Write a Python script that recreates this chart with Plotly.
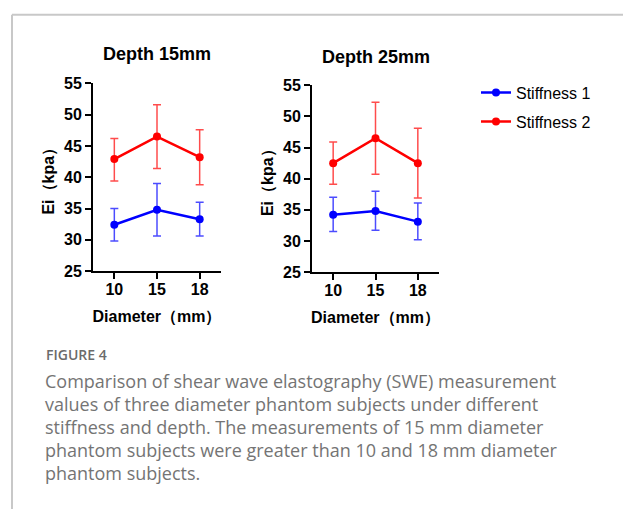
import plotly.graph_objects as go

W, H = 623, 518

diameters = ["10", "15", "18"]

# Depth 15mm
d15_s1 = [32.4, 34.8, 33.3]
d15_s1_hi = [35.0, 39.0, 36.0]
d15_s1_lo = [29.8, 30.6, 30.6]
d15_s2 = [42.9, 46.5, 43.2]
d15_s2_hi = [46.2, 51.6, 47.6]
d15_s2_lo = [39.4, 41.4, 38.8]

# Depth 25mm
d25_s1 = [34.2, 34.8, 33.1]
d25_s1_hi = [37.0, 38.0, 36.1]
d25_s1_lo = [31.5, 31.7, 30.2]
d25_s2 = [42.5, 46.5, 42.5]
d25_s2_hi = [45.9, 52.3, 48.1]
d25_s2_lo = [39.1, 40.7, 36.9]

series_names = ["Stiffness 1", "Stiffness 2"]
line_colors = ["#0000ff", "#ff0000"]
err_colors = ["rgba(0,0,255,0.7)", "rgba(255,0,0,0.7)"]

panel_titles = ["Depth 15mm", "Depth 25mm"]
y_title = "Ei（kpa）"
x_title = "Diameter（mm）"
y_ticks = [25, 30, 35, 40, 45, 50, 55]

caption_head = "FIGURE 4"
caption_lines = [
    "Comparison of shear wave elastography (SWE) measurement",
    "values of three diameter phantom subjects under different",
    "stiffness and depth. The measurements of 15 mm diameter",
    "phantom subjects were greater than 10 and 18 mm diameter",
    "phantom subjects.",
]


def px(x):
    return x / W


def py(y):
    return 1 - y / H


fig = go.Figure()

panels = [
    [(d15_s1, d15_s1_hi, d15_s1_lo), (d15_s2, d15_s2_hi, d15_s2_lo)],
    [(d25_s1, d25_s1_hi, d25_s1_lo), (d25_s2, d25_s2_hi, d25_s2_lo)],
]

for p, panel in enumerate(panels):
    xa = "x" if p == 0 else "x2"
    ya = "y" if p == 0 else "y2"
    for s, (vals, hi, lo) in enumerate(panel):
        fig.add_trace(go.Scatter(
            x=diameters, y=vals,
            mode="lines+markers",
            name=series_names[s],
            legendgroup="g%d" % s,
            showlegend=(p == 1),
            line=dict(color=line_colors[s], width=2.5),
            marker=dict(color=line_colors[s], size=8),
            error_y=dict(
                type="data", symmetric=False,
                array=[h - v for h, v in zip(hi, vals)],
                arrayminus=[v - l for v, l in zip(vals, lo)],
                color=err_colors[s], thickness=1.5, width=4,
            ),
            xaxis=xa, yaxis=ya,
        ))

font_bold = "Liberation Sans, Arial, sans-serif"

axis_common = dict(
    showline=True, linecolor="black", linewidth=2,
    ticks="outside", ticklen=6, tickwidth=2, tickcolor="black",
    showgrid=False, zeroline=False,
    tickfont=dict(family=font_bold, size=16, color="black", weight="bold"),
)
title_font = dict(family=font_bold, size=16, color="black", weight="bold")

fig.update_layout(
    width=W, height=H,
    margin=dict(l=0, r=0, t=0, b=0),
    paper_bgcolor="white", plot_bgcolor="white",
    xaxis=dict(domain=[px(93), px(221)], anchor="y", type="category",
               range=[-0.5, 2.5], ticklabelstandoff=-3,
               title=dict(text=x_title, standoff=14, font=title_font),
               **axis_common),
    yaxis=dict(domain=[py(272), py(78)], anchor="x", range=[25, 55],
               tickvals=y_ticks,
               title=dict(text=y_title, standoff=5, font=title_font),
               **axis_common),
    xaxis2=dict(domain=[px(312), px(439)], anchor="y2", type="category",
                range=[-0.5, 2.5], ticklabelstandoff=-3,
                title=dict(text=x_title, standoff=14, font=title_font),
                **axis_common),
    yaxis2=dict(domain=[py(273), py(80)], anchor="x2", range=[25, 55],
                tickvals=y_ticks,
                title=dict(text=y_title, standoff=5, font=title_font),
                **axis_common),
    legend=dict(x=px(476), y=py(70), xanchor="left", yanchor="top",
                font=dict(family="Liberation Sans, Arial, sans-serif", size=16, color="black"),
                itemwidth=30, tracegroupgap=5, bgcolor="rgba(0,0,0,0)"),
    showlegend=True,
)

annotations = []
for title, cx, cy in zip(panel_titles, [157, 376], [48, 51]):
    annotations.append(dict(
        text=title, x=px(cx), y=py(cy), xref="paper", yref="paper",
        xanchor="center", yanchor="middle", showarrow=False,
        font=dict(family=font_bold, size=18, color="black", weight="bold"),
    ))

annotations.append(dict(
    text=caption_head, x=px(44), y=py(358), xref="paper", yref="paper",
    xanchor="left", yanchor="middle", showarrow=False,
    font=dict(family="Open Sans, sans-serif", size=14, color="#6b6b6b", weight=600),
))
for i, line in enumerate(caption_lines):
    annotations.append(dict(
        text=line, x=px(43), y=py(386 + 23.8 * i), xref="paper", yref="paper",
        xanchor="left", yanchor="middle", showarrow=False,
        font=dict(family="Open Sans, sans-serif", size=18, color="#747474", weight=400),
    ))
fig.update_layout(annotations=annotations)

fig.add_shape(type="line", xref="paper", yref="paper",
              x0=px(12), x1=1, y0=py(7), y1=py(7),
              line=dict(color="#c8c8c8", width=2))
fig.add_shape(type="line", xref="paper", yref="paper",
              x0=px(12), x1=px(12), y0=py(7), y1=0,
              line=dict(color="#c8c8c8", width=2))

fig.write_html("out.html")
